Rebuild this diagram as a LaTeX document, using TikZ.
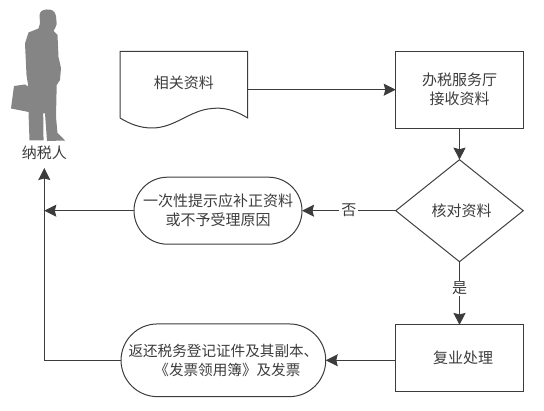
\documentclass[tikz,border=0pt]{standalone}
\usepackage{fontspec}
\setmainfont{Noto Sans CJK SC}
\usetikzlibrary{shapes.geometric,shapes.misc,arrows.meta}
\definecolor{ink}{HTML}{3C3C3C}
\definecolor{figgray}{HTML}{858585}
\tikzset{
  lbl/.style={text=ink,font=\fontsize{15}{19}\selectfont,inner sep=0pt,outer sep=0pt,align=center},
  boxnode/.style={lbl,draw=ink,line width=1pt,rectangle,minimum width=127.5pt},
  stadium/.style={lbl,draw=ink,line width=1pt,rounded rectangle,rounded rectangle arc length=180,minimum height=67pt},
  flow/.style={draw=ink,line width=1pt,-{Stealth[length=12pt,width=12pt,inset=1.5pt]}},
  plain/.style={draw=ink,line width=1pt},
  tag/.style={lbl,fill=white,inner xsep=2pt,inner ysep=1pt}
}
\begin{document}
\begin{tikzpicture}[x=1pt,y=-1pt]
\useasboundingbox (0,0) rectangle (544,411);
% person silhouette
\fill[figgray] (46.5,9.5) .. controls (51,9) and (55,10.5) .. (56,16)
  -- (56.7,24) -- (55,28.5) -- (53.5,31) -- (57.5,35) -- (58.5,57) -- (61,68) -- (60,80) -- (56.7,85)
  -- (56,117) -- (57.5,133) -- (65,140.5) -- (47,141) -- (45,113.5) -- (43.2,113.5) -- (43.5,137) -- (43.5,140.5)
  -- (29.5,140.5) -- (28.5,112) -- (11,108.5) -- (14,86) -- (25,84.5) -- (28.3,86.5) -- (26.5,75) -- (25,43.5)
  -- (28.5,32.5) -- (38.5,28.5) -- (40,23.5) -- (39.5,15) .. controls (40,11.5) and (42,10) .. (46.5,9.5) -- cycle;
\node[lbl,minimum height=30pt] (person) at (44.3,153) {纳税人};
\node[lbl,minimum width=127.7pt,minimum height=76.7pt] (doc) at (183.9,89.7) {\raisebox{15pt}{相关资料}};
\draw[plain] (120,118) -- (120,51.3) -- (247.7,51.3) -- (247.7,118)
  .. controls (232,108.5) and (222,107.5) .. (212,108.5)
  .. controls (190,110) and (175,128) .. (152,128)
  .. controls (140,128) and (130,124) .. (120,118);
\node[boxnode,minimum height=76.7pt] (hall) at (459.5,89.7) {办税服务厅\\接收资料};
\node[lbl,draw=ink,line width=1pt,diamond,aspect=1.245,minimum width=127.5pt,minimum height=102pt] (check) at (459.5,210.7) {\hspace*{4pt}核对资料};
\node[stadium,minimum width=168pt] (reject) at (218,210.7) {一次性提示应补正资料\\或不予受理原因};
\node[boxnode,minimum height=66.7pt] (proc) at (459.5,358.3) {\hspace*{7pt}复业处理};
\node[stadium,minimum width=204.7pt,minimum height=72.7pt,font=\fontsize{14.6}{19}\selectfont] (back) at (223.4,360.3) {返还税务登记证件及其副本、\\\hspace*{8pt}《发票领用簿》及发票};
\coordinate (junction) at (person.south |- reject.west);
\draw[flow] (doc.east) -- (hall.west);
\draw[flow] (hall.south) -- (check.north);
\draw[flow] (check.west) -- node[tag] {否} (reject.east);
\draw[flow] (check.south) -- node[tag,pos=0.42] {是} (proc.north);
\draw[flow] (proc.west |- back.east) -- (back.east);
\draw[flow] (back.west) -| (person.south);
\draw[flow] (reject.west) -- (junction);
\end{tikzpicture}
\end{document}
